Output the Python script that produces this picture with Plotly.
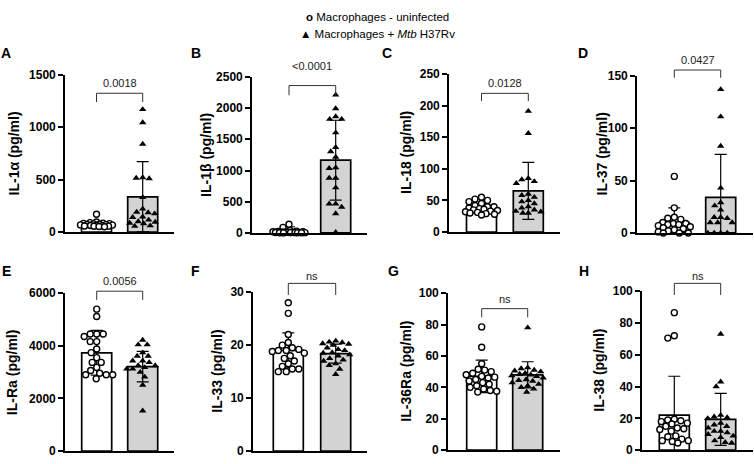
import numpy as np
import plotly.graph_objects as go

W, H = 754, 464

# ---------------- data ----------------
groups = ["Macrophages - uninfected", "Macrophages + Mtb H37Rv"]
panel_letters = ["A", "B", "C", "D", "E", "F", "G", "H"]
y_titles = ["IL-1α (pg/ml)", "IL-1β (pg/ml)", "IL-18 (pg/ml)", "IL-37 (pg/ml)",
            "IL-Ra (pg/ml)", "IL-33 (pg/ml)", "IL-36Ra (pg/ml)", "IL-38 (pg/ml)"]
p_labels = ["0.0018", "<0.0001", "0.0128", "0.0427", "0.0056", "ns", "ns", "ns"]
y_max = [1500, 2500, 250, 150, 6000, 30, 100, 100]
y_dtick = [500, 500, 50, 50, 2000, 10, 20, 20]

uninf_A = [170, 95, 90, 85, 82, 80, 78, 75, 72, 70, 68, 66, 64, 62, 60, 58, 56, 55, 52, 50]
inf_A = [1170, 1045, 840, 520, 515, 510, 330, 220, 190, 185, 175, 145, 140, 115, 100, 95, 85, 80, 60, 55]
uninf_B = [140, 90, 40, 30, 25, 20, 20, 15, 15, 10, 10, 10, 8, 5, 5, 5, 3, 2, 2, 1]
inf_B = [2210, 1993, 1822, 1863, 1822, 1605, 1372, 1216, 1304, 1035, 1046, 880, 880, 725, 466, 466, 414, 311, 10]
uninf_C = [55, 52, 50, 48, 45, 42, 40, 40, 38, 37, 36, 35, 34, 33, 32, 31, 30, 29, 28, 27]
inf_C = [191, 156, 85, 83, 80, 77, 60, 58, 55, 50, 48, 45, 40, 38, 35, 33, 32, 30, 30]
uninf_D = [54, 24, 15, 14, 13, 10, 9, 9, 8, 8, 7, 6, 5, 4, 3, 2, 1, 0, 0, 0]
inf_D = [137, 111, 83, 43, 29, 26, 22, 15, 15, 14, 10, 10, 10, 0, 0, 0, 0]
uninf_E = [5390, 5110, 4450, 4450, 4450, 4350, 4160, 4160, 3880, 3740, 3550, 3370, 3370, 3180, 3060, 2960, 2900, 2900, 2900, 2750]
inf_E = [4220, 4040, 4040, 3740, 3610, 3610, 3430, 3430, 3370, 3250, 3250, 3180, 3120, 3120, 3000, 2820, 2510, 1530]
uninf_F = [28, 26, 22, 20.5, 20, 19.5, 19.2, 19, 19, 18.8, 18.5, 18, 17.5, 17, 16.5, 16, 15.5, 15.5, 15, 15]
inf_F = [20.8, 20.6, 20.5, 20.3, 20.2, 20, 19.5, 19.2, 19, 18.6, 18.5, 18.2, 18, 17.5, 17.2, 17, 16.5, 16.2, 15.5, 14.5]
uninf_G = [78.5, 65.5, 55, 51.5, 51, 50, 49, 48, 47, 46.5, 46, 45, 44, 43, 42, 41, 40, 39, 38, 37.5, 37]
inf_G = [78, 52.5, 52, 51, 50.5, 50, 49, 48.5, 48, 47.5, 47, 46, 45, 44.5, 44, 43, 42, 41, 40, 39, 37]
uninf_H = [86.5, 72, 70.5, 19.5, 19, 18.5, 18, 17, 16.5, 15, 14, 13.5, 13, 12, 9, 8.5, 7, 6, 6, 5.5, 4.5]
inf_H = [73, 43, 40, 22, 21, 20.5, 20, 17, 16, 15, 14, 12, 12, 11, 10, 9, 8, 6, 5, 4.5]

uninf_points = [uninf_A, uninf_B, uninf_C, uninf_D, uninf_E, uninf_F, uninf_G, uninf_H]
inf_points = [inf_A, inf_B, inf_C, inf_D, inf_E, inf_F, inf_G, inf_H]

bar_mean_uninf = [74, 25, 37, 10, 3735, 19.0, 47, 22]
bar_sd_uninf = [25, 75, 8, 14, 850, 3.3, 10.3, 24.5]
bar_mean_inf = [336, 1165, 65, 34, 3210, 18.4, 48, 19.4]
bar_sd_inf = [335, 640, 45, 41, 580, 1.8, 8.3, 16.3]

# ---------------- layout geometry (pixels) ----------------
# (axis x, centre bar1, centre bar2, axis end x, y top, y bottom)
geom = [
    (65, 96.5, 142.7, 174, 70, 232),
    (252, 289, 335.7, 367, 72, 233),
    (449, 481.5, 528.3, 560, 69, 232),
    (637, 674.3, 720.7, 753, 71, 233),
    (65, 96.7, 142.7, 174, 295, 458),
    (253, 288.3, 335.7, 367, 294, 458),
    (448, 481.7, 527.7, 560, 295, 457),
    (642, 674.3, 720.7, 753, 293, 457),
]
title_off = [-51, -46, -43, -35, -53, -36, -42, -43]
letter_pos = [(6, 47), (196, 47), (387, 47), (583, 47), (6, 272), (195, 272), (393, 272), (584, 272)]
# bracket: (legs bottom, top, text) in y-domain fractions
bracket = [
    (0.827, 0.883, 0.95), (0.882, 0.944, 1.068), (0.828, 0.877, 0.945), (0.988, 1.037, 1.099),
    (0.957, 1.012, 1.074), (0.982, 1.055, 1.104), (0.846, 0.901, 0.963), (0.976, 1.049, 1.098),
]

FONT = "Arial, Liberation Sans, sans-serif"
BAR_PX = 30
MK_C = 6.0
MK_T = 6.5


def swarm(vals, px_per_unit, d=6.5, maxoff=16):
    vals = np.asarray(vals, dtype=float)
    order = np.argsort(-vals, kind="stable")
    cands = sorted(np.arange(-maxoff, maxoff + 0.5, 0.5), key=lambda v: (abs(v), v))
    placed = []
    offs = np.zeros(len(vals))
    for i in order:
        y = vals[i] * px_per_unit
        best, best_ov = 0.0, 1e9
        for c in cands:
            ov = 0.0
            for (px, py) in placed:
                dist = np.hypot(px - c, py - y)
                if dist < d:
                    ov = max(ov, d - dist)
            if ov == 0:
                best = c
                best_ov = 0
                break
            if ov < best_ov:
                best_ov, best = ov, c
        offs[i] = best
        placed.append((best, y))
    return offs


fig = go.Figure()
annotations = []
shapes = []

for k in range(8):
    x0, c1, c2, x1, yt, yb = geom[k]
    s = c2 - c1
    xr = [-(c1 - x0) / s, 1 + (x1 - c2) / s]
    ax = "" if k == 0 else str(k + 1)
    xa, ya = "x" + ax, "y" + ax
    ppu = (yb - yt) / y_max[k]

    fig.add_trace(go.Bar(
        x=[0, 1], y=[bar_mean_uninf[k], bar_mean_inf[k]],
        width=BAR_PX / s,
        marker=dict(color=["white", "#d3d3d3"], line=dict(color="black", width=1.7)),
        error_y=dict(type="data", array=[bar_sd_uninf[k], bar_sd_inf[k]], visible=True,
                     color="black", thickness=1.2, width=6),
        xaxis=xa, yaxis=ya, showlegend=False, cliponaxis=True,
    ))
    offs_u = swarm(uninf_points[k], ppu)
    fig.add_trace(go.Scatter(
        x=0 + offs_u / s, y=uninf_points[k], mode="markers",
        marker=dict(symbol="circle", size=MK_C, color="white", line=dict(color="black", width=1.4)),
        xaxis=xa, yaxis=ya, showlegend=False, cliponaxis=False,
    ))
    offs_i = swarm(inf_points[k], ppu)
    fig.add_trace(go.Scatter(
        x=1 + offs_i / s, y=inf_points[k], mode="markers",
        marker=dict(symbol="triangle-up", size=MK_T, color="black", line=dict(width=0)),
        xaxis=xa, yaxis=ya, showlegend=False, cliponaxis=False,
    ))

    fig.layout["xaxis" + ax] = dict(
        domain=[x0 / W, x1 / W], range=xr, anchor=ya, showgrid=False, zeroline=False,
        showline=True, linecolor="black", linewidth=1.6, showticklabels=False, ticks="",
        fixedrange=True,
    )
    fig.layout["yaxis" + ax] = dict(
        domain=[1 - yb / H, 1 - yt / H], range=[0, y_max[k]], anchor=xa, showgrid=False,
        zeroline=False, showline=True, linecolor="black", linewidth=1.6, ticks="outside",
        ticklen=5, tickwidth=1.6, tickcolor="black", dtick=y_dtick[k], tick0=0,
        tickfont=dict(family=FONT, size=12, color="black", weight="bold"),
        fixedrange=True,
    )

    # y title
    annotations.append(dict(
        text="<b>" + y_titles[k] + "</b>", textangle=-90, xref="paper", yref="paper",
        x=(x0 + title_off[k]) / W, y=1 - (yt + yb) / 2 / H, showarrow=False,
        xanchor="center", yanchor="middle", font=dict(family=FONT, size=14, color="black"),
    ))
    # panel letter
    lx, ly = letter_pos[k]
    annotations.append(dict(
        text="<b>" + panel_letters[k] + "</b>", xref="paper", yref="paper",
        x=lx / W, y=1 - ly / H, showarrow=False, xanchor="center", yanchor="middle",
        font=dict(family=FONT, size=14, color="black"),
    ))
    # bracket and p value
    lb, tp, tx = bracket[k]
    shapes.append(dict(
        type="path", xref=xa, yref=ya + " domain",
        path=f"M 0,{lb} L 0,{tp} L 1,{tp} L 1,{lb}",
        line=dict(color="#333333", width=1),
    ))
    annotations.append(dict(
        text=p_labels[k], xref=xa, yref=ya + " domain", x=0.5, y=tx, showarrow=False,
        xanchor="center", yanchor="middle", font=dict(family=FONT, size=11, color="#222222"),
    ))

# legend text at top
annotations.append(dict(
    text="<b>o</b> " + groups[0], xref="paper", yref="paper", x=377 / W, y=1 - 10 / H,
    showarrow=False, xanchor="center", yanchor="middle",
    font=dict(family=FONT, size=11.5, color="black"),
))
annotations.append(dict(
    text="▲ Macrophages + <i>Mtb</i> H37Rv", xref="paper", yref="paper", x=377 / W, y=1 - 28 / H,
    showarrow=False, xanchor="center", yanchor="middle",
    font=dict(family=FONT, size=11.5, color="black"),
))

fig.update_layout(
    width=W, height=H, margin=dict(l=0, r=0, t=0, b=0),
    paper_bgcolor="white", plot_bgcolor="white",
    annotations=annotations, shapes=shapes, barmode="overlay",
    showlegend=False,
)

fig.write_html("out.html", config={"displayModeBar": False})
